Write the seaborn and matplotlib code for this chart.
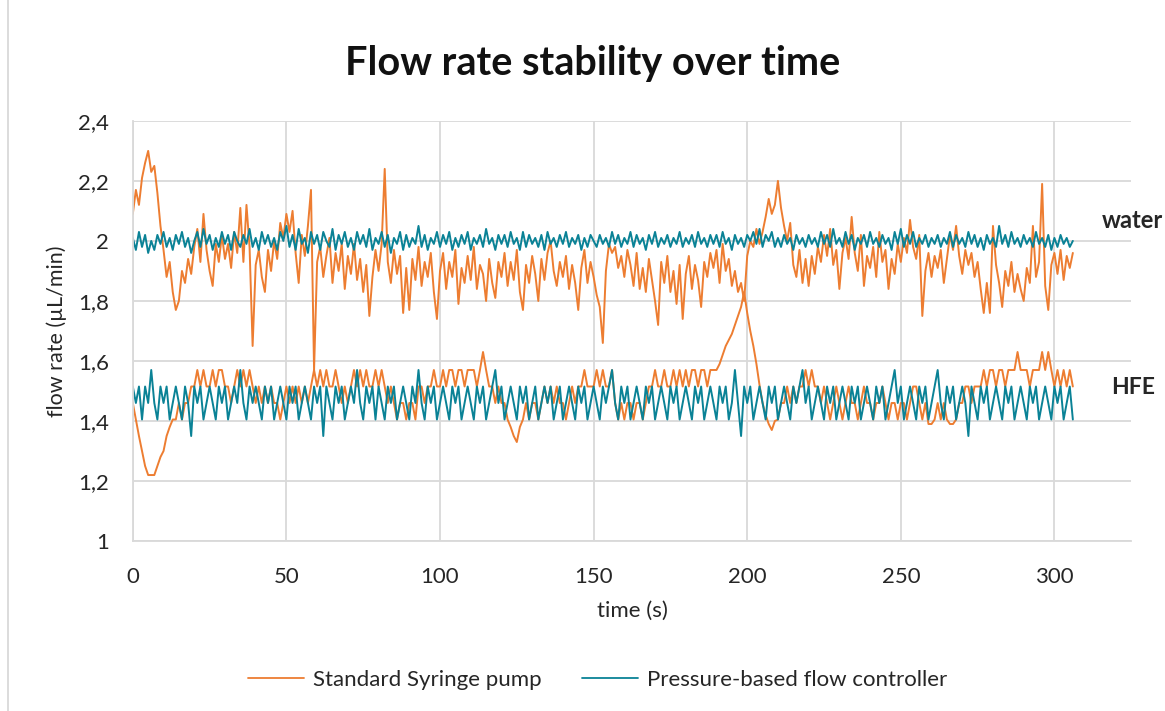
import numpy as np
import pandas as pd
import matplotlib
matplotlib.use("Agg")
import matplotlib.pyplot as plt
import seaborn as sns
from matplotlib.lines import Line2D
from matplotlib.ticker import FuncFormatter, MultipleLocator

# values, one sample per second (t = 0 .. 306 s)
syringe_water = [
    2.09, 2.17, 2.12, 2.21, 2.26, 2.30, 2.23, 2.25, 2.16, 2.05,
    1.97, 1.88, 1.93, 1.83, 1.77, 1.80, 1.90, 1.86, 1.94, 1.89,
    1.98, 2.04, 1.93, 2.09, 1.97, 1.90, 1.85, 1.99, 1.93, 2.02,
    1.94, 1.99, 1.91, 2.03, 1.96, 2.11, 1.93, 2.12, 1.98, 1.65,
    1.92, 1.97, 1.88, 1.83, 1.97, 1.90, 2.00, 1.94, 2.06, 2.01,
    2.09, 2.03, 2.10, 1.96, 1.86, 2.02, 1.95, 2.05, 2.17, 1.57,
    1.93, 1.98, 1.88, 1.95, 2.01, 1.86, 1.96, 1.90, 1.99, 1.84,
    1.95, 1.89, 1.99, 1.87, 1.94, 1.83, 1.92, 1.75, 1.88, 1.97,
    1.90, 1.99, 2.24, 1.93, 1.86, 1.97, 1.89, 1.95, 1.76, 1.91,
    1.77, 1.94, 1.87, 1.98, 1.85, 1.93, 1.88, 1.96, 1.83, 1.74,
    1.90, 1.96, 1.84, 1.93, 1.88, 1.97, 1.79, 1.91, 1.86, 1.95,
    1.87, 1.98, 1.84, 1.92, 1.89, 1.80, 1.94, 1.86, 1.81, 1.93,
    1.88, 1.96, 1.85, 1.93, 1.87, 1.97, 1.83, 1.77, 1.92, 1.86,
    1.95, 1.89, 1.80, 1.94, 1.87, 1.96, 2.00, 1.90, 1.85, 1.93,
    1.88, 1.95, 1.84, 1.92, 1.86, 1.77, 1.91, 1.97, 1.86, 1.93,
    1.88, 1.82, 1.78, 1.66, 1.90, 1.99, 1.96, 1.98, 1.91, 1.95,
    1.88, 1.97, 1.92, 1.85, 1.96, 1.84, 1.91, 1.83, 1.94, 1.87,
    1.80, 1.72, 1.93, 1.86, 1.95, 1.83, 1.90, 1.79, 1.92, 1.74,
    1.89, 1.95, 1.84, 1.92, 1.87, 1.78, 1.93, 1.88, 1.96, 1.91,
    1.97, 1.86, 1.99, 1.90, 1.94, 1.85, 1.90, 1.83, 1.86, 1.80,
    1.95, 2.00, 1.98, 2.04, 1.99, 2.03, 2.08, 2.14, 2.09, 2.12,
    2.20, 2.11, 2.05, 2.00, 2.06, 1.92, 1.88, 1.97, 1.86, 1.94,
    1.85, 1.95, 1.89, 1.98, 1.93, 2.02, 1.95, 2.04, 1.92, 1.97,
    1.84, 1.96, 2.01, 1.94, 2.08, 1.96, 1.90, 2.02, 1.85, 1.95,
    1.91, 1.98, 1.88, 2.03, 1.93, 1.97, 1.84, 1.94, 1.89, 1.99,
    1.93, 2.01, 1.96, 2.07, 1.98, 1.94, 2.02, 1.75, 1.90, 1.96,
    1.88, 1.95, 1.91, 1.97, 1.86, 1.94, 2.02, 1.97, 2.05, 1.95,
    1.89, 1.97, 1.92, 1.96, 1.88, 1.93, 1.84, 1.76, 1.86, 1.76,
    2.05, 1.92, 1.86, 1.78, 1.90, 1.85, 1.93, 1.83, 1.89, 1.84,
    1.80, 1.91, 1.86, 2.05, 1.88, 1.93, 2.19, 1.85, 1.77, 1.92,
    1.96, 1.89, 1.97, 1.87, 1.95, 1.91, 1.96,
]

pressure_water = [
    2.01, 1.97, 2.03, 1.98, 2.02, 1.96, 2.00, 1.97, 2.02, 1.99,
    2.03, 1.98, 2.01, 1.97, 2.02, 1.99, 2.03, 1.98, 2.01, 1.96,
    2.00, 2.03, 1.98, 2.04, 1.99, 2.02, 1.97, 2.01, 1.98, 2.03,
    1.99, 2.02, 1.97, 2.03, 2.00, 1.98, 2.02, 1.99, 2.04, 1.98,
    2.01, 1.97, 2.03, 1.99, 2.02, 1.98, 2.01, 1.97, 2.03, 2.00,
    2.05, 1.98, 2.02, 1.97, 2.04, 1.99, 2.01, 1.96, 2.03, 1.99,
    2.02, 1.97, 2.03, 2.00, 1.98, 2.04, 1.97, 2.02, 1.99, 2.03,
    1.98, 2.01, 1.97, 2.03, 1.99, 2.02, 1.98, 2.04, 1.97, 2.01,
    1.99, 2.03, 1.98, 2.02, 1.96, 2.01, 1.99, 2.03, 1.97, 2.02,
    1.98, 2.01, 1.99, 2.05, 1.98, 2.02, 1.97, 2.01, 1.99, 2.03,
    1.98, 2.02, 1.99, 2.03, 1.97, 2.01, 1.98, 2.02, 1.99, 2.03,
    1.97, 2.01, 1.99, 2.02, 1.98, 2.04, 1.99, 2.01, 1.97, 2.02,
    1.99, 2.02, 1.98, 2.03, 1.99, 2.01, 1.97, 2.03, 1.98, 2.02,
    1.99, 2.01, 1.98, 2.02, 1.97, 2.03, 1.99, 2.01, 1.98, 2.02,
    1.99, 2.03, 1.98, 2.01, 1.99, 2.02, 1.97, 2.01, 1.98, 2.02,
    2.00, 1.98, 2.02, 1.99, 2.01, 1.98, 2.03, 1.99, 2.02, 1.98,
    2.01, 1.99, 2.03, 1.98, 2.02, 1.99, 2.01, 1.97, 2.02, 1.99,
    2.03, 1.98, 2.01, 1.99, 2.02, 1.98, 2.01, 1.99, 2.03, 1.98,
    2.01, 1.99, 2.02, 1.98, 2.03, 1.99, 2.01, 1.98, 2.02, 1.99,
    2.02, 1.98, 2.03, 1.99, 2.01, 1.97, 2.02, 1.99, 2.01, 1.98,
    2.02, 2.00, 2.03, 1.99, 2.04, 1.98, 2.02, 2.00, 2.03, 1.98,
    2.01, 1.98, 2.02, 1.99, 2.01, 1.97, 2.02, 1.99, 2.01, 1.98,
    2.02, 1.99, 2.01, 1.98, 2.03, 1.99, 2.02, 1.98, 2.04, 1.99,
    2.01, 1.98, 2.03, 1.99, 2.02, 1.97, 2.01, 1.99, 2.02, 1.98,
    2.03, 1.99, 2.01, 1.98, 2.02, 1.99, 2.01, 1.97, 2.03, 1.99,
    2.04, 1.98, 2.02, 1.99, 2.03, 1.98, 2.01, 1.99, 2.02, 1.98,
    2.01, 1.99, 2.02, 1.98, 2.01, 1.99, 2.03, 1.98, 2.02, 1.99,
    2.01, 1.98, 2.03, 1.99, 2.02, 1.98, 2.01, 1.97, 2.02, 1.99,
    2.01, 1.98, 2.05, 1.99, 2.02, 1.98, 2.03, 1.99, 2.01, 1.98,
    2.02, 1.99, 2.01, 1.98, 2.03, 1.99, 2.01, 1.98, 2.02, 1.97,
    2.01, 1.98, 2.02, 1.99, 2.01, 1.98, 2.00,
]

syringe_hfe = [
    1.46, 1.405, 1.35, 1.30, 1.25, 1.22, 1.22, 1.22, 1.25, 1.28,
    1.30, 1.35, 1.38, 1.405, 1.405, 1.46, 1.405, 1.46, 1.46, 1.515,
    1.515, 1.57, 1.515, 1.57, 1.515, 1.515, 1.57, 1.515, 1.57, 1.57,
    1.515, 1.515, 1.46, 1.515, 1.57, 1.515, 1.57, 1.515, 1.57, 1.515,
    1.46, 1.515, 1.46, 1.515, 1.46, 1.515, 1.46, 1.46, 1.405, 1.46,
    1.515, 1.46, 1.515, 1.46, 1.515, 1.46, 1.515, 1.46, 1.515, 1.57,
    1.515, 1.57, 1.515, 1.57, 1.515, 1.515, 1.57, 1.515, 1.46, 1.515,
    1.46, 1.515, 1.57, 1.515, 1.57, 1.515, 1.57, 1.515, 1.515, 1.57,
    1.515, 1.57, 1.515, 1.46, 1.515, 1.46, 1.405, 1.46, 1.46, 1.405,
    1.46, 1.46, 1.405, 1.515, 1.515, 1.46, 1.515, 1.515, 1.57, 1.515,
    1.515, 1.57, 1.515, 1.57, 1.57, 1.515, 1.57, 1.57, 1.515, 1.57,
    1.57, 1.57, 1.515, 1.57, 1.63, 1.57, 1.515, 1.515, 1.46, 1.515,
    1.46, 1.46, 1.405, 1.38, 1.35, 1.33, 1.38, 1.405, 1.46, 1.405,
    1.46, 1.46, 1.405, 1.46, 1.515, 1.46, 1.515, 1.46, 1.515, 1.46,
    1.46, 1.405, 1.46, 1.515, 1.46, 1.515, 1.515, 1.57, 1.515, 1.515,
    1.515, 1.57, 1.515, 1.57, 1.515, 1.515, 1.57, 1.46, 1.405, 1.46,
    1.405, 1.46, 1.46, 1.405, 1.46, 1.46, 1.405, 1.46, 1.515, 1.515,
    1.57, 1.515, 1.515, 1.57, 1.515, 1.515, 1.57, 1.515, 1.57, 1.515,
    1.57, 1.515, 1.57, 1.57, 1.515, 1.57, 1.57, 1.515, 1.57, 1.57,
    1.57, 1.59, 1.62, 1.65, 1.67, 1.69, 1.72, 1.75, 1.78, 1.83,
    1.76, 1.70, 1.65, 1.59, 1.52, 1.46, 1.42, 1.39, 1.37, 1.40,
    1.405, 1.46, 1.46, 1.515, 1.46, 1.515, 1.46, 1.515, 1.515, 1.57,
    1.515, 1.57, 1.515, 1.515, 1.46, 1.515, 1.46, 1.405, 1.46, 1.515,
    1.46, 1.405, 1.46, 1.515, 1.46, 1.46, 1.405, 1.46, 1.515, 1.46,
    1.46, 1.405, 1.46, 1.46, 1.515, 1.46, 1.405, 1.46, 1.46, 1.405,
    1.46, 1.46, 1.405, 1.46, 1.515, 1.515, 1.46, 1.405, 1.46, 1.39,
    1.39, 1.405, 1.46, 1.405, 1.46, 1.405, 1.39, 1.39, 1.405, 1.46,
    1.46, 1.515, 1.515, 1.46, 1.515, 1.515, 1.515, 1.57, 1.515, 1.57,
    1.57, 1.515, 1.57, 1.57, 1.515, 1.57, 1.57, 1.57, 1.63, 1.57,
    1.57, 1.57, 1.515, 1.57, 1.57, 1.57, 1.63, 1.57, 1.63, 1.57,
    1.515, 1.57, 1.515, 1.57, 1.515, 1.57, 1.515,
]

pressure_hfe = [
    1.515, 1.46, 1.515, 1.405, 1.515, 1.46, 1.57, 1.46, 1.405, 1.515,
    1.46, 1.515, 1.405, 1.46, 1.515, 1.46, 1.405, 1.515, 1.46, 1.35,
    1.515, 1.46, 1.515, 1.405, 1.46, 1.515, 1.46, 1.405, 1.515, 1.46,
    1.515, 1.405, 1.46, 1.515, 1.46, 1.57, 1.46, 1.405, 1.515, 1.46,
    1.515, 1.46, 1.405, 1.515, 1.46, 1.515, 1.405, 1.46, 1.515, 1.46,
    1.405, 1.515, 1.46, 1.515, 1.405, 1.46, 1.515, 1.46, 1.405, 1.515,
    1.46, 1.515, 1.35, 1.515, 1.46, 1.405, 1.515, 1.46, 1.515, 1.405,
    1.46, 1.515, 1.46, 1.57, 1.46, 1.405, 1.515, 1.46, 1.515, 1.405,
    1.515, 1.46, 1.405, 1.515, 1.46, 1.515, 1.405, 1.46, 1.515, 1.46,
    1.405, 1.515, 1.46, 1.57, 1.46, 1.405, 1.515, 1.46, 1.515, 1.405,
    1.46, 1.515, 1.46, 1.405, 1.515, 1.46, 1.515, 1.405, 1.46, 1.515,
    1.46, 1.405, 1.515, 1.46, 1.515, 1.405, 1.46, 1.515, 1.57, 1.46,
    1.515, 1.405, 1.46, 1.515, 1.46, 1.405, 1.515, 1.46, 1.515, 1.405,
    1.46, 1.515, 1.405, 1.46, 1.515, 1.46, 1.515, 1.405, 1.46, 1.515,
    1.405, 1.46, 1.515, 1.46, 1.405, 1.515, 1.46, 1.515, 1.405, 1.46,
    1.515, 1.46, 1.405, 1.515, 1.46, 1.515, 1.57, 1.46, 1.405, 1.515,
    1.46, 1.515, 1.405, 1.46, 1.515, 1.46, 1.405, 1.515, 1.46, 1.515,
    1.405, 1.46, 1.515, 1.46, 1.405, 1.515, 1.46, 1.515, 1.405, 1.46,
    1.515, 1.46, 1.405, 1.515, 1.46, 1.515, 1.405, 1.46, 1.515, 1.46,
    1.405, 1.515, 1.46, 1.515, 1.405, 1.46, 1.57, 1.46, 1.35, 1.515,
    1.46, 1.515, 1.405, 1.46, 1.515, 1.46, 1.405, 1.515, 1.46, 1.515,
    1.405, 1.46, 1.515, 1.46, 1.405, 1.515, 1.46, 1.515, 1.57, 1.46,
    1.515, 1.405, 1.46, 1.515, 1.46, 1.405, 1.515, 1.46, 1.515, 1.405,
    1.46, 1.515, 1.46, 1.405, 1.515, 1.46, 1.515, 1.405, 1.46, 1.515,
    1.46, 1.405, 1.515, 1.46, 1.515, 1.405, 1.46, 1.515, 1.57, 1.46,
    1.515, 1.405, 1.46, 1.515, 1.46, 1.405, 1.515, 1.46, 1.515, 1.405,
    1.46, 1.515, 1.57, 1.46, 1.405, 1.515, 1.46, 1.515, 1.405, 1.46,
    1.515, 1.46, 1.35, 1.515, 1.46, 1.405, 1.515, 1.46, 1.515, 1.405,
    1.46, 1.515, 1.46, 1.405, 1.515, 1.46, 1.515, 1.405, 1.46, 1.515,
    1.46, 1.405, 1.515, 1.46, 1.515, 1.405, 1.46, 1.515, 1.46, 1.405,
    1.515, 1.46, 1.515, 1.405, 1.46, 1.515, 1.405,
]

time_s = np.arange(len(syringe_water))

orange = "#ED7D31"
teal = "#0A8296"
grid_col = "#D9D9D9"
label_col = "#262626"

sns.set_style("white")
plt.rcParams["font.family"] = ["Lato", "DejaVu Sans"]

fig = plt.figure(figsize=(11.65, 7.11), dpi=100)
ax = fig.add_axes([0.114, 0.239, 0.857, 0.591])

# orange first, teal drawn on top
sns.lineplot(x=time_s, y=syringe_water, color=orange, lw=1.4, ax=ax)
sns.lineplot(x=time_s, y=syringe_hfe, color=orange, lw=1.4, ax=ax)
sns.lineplot(x=time_s, y=pressure_water, color=teal, lw=1.4, ax=ax)
sns.lineplot(x=time_s, y=pressure_hfe, color=teal, lw=1.4, ax=ax)

ax.set_xlim(0, 325)
ax.set_ylim(1, 2.4)
ax.set_xticks([0, 50, 100, 150, 200, 250, 300])
ax.yaxis.set_major_locator(MultipleLocator(0.2))
ax.yaxis.set_major_formatter(FuncFormatter(lambda v, p: f"{v:.1f}".rstrip("0").rstrip(".").replace(".", ",")))
ax.grid(True, color=grid_col, lw=1.3)
ax.set_axisbelow(True)
for s in ["top", "right"]:
    ax.spines[s].set_visible(False)
for s in ["left", "bottom"]:
    ax.spines[s].set_color(grid_col)
    ax.spines[s].set_linewidth(1.3)
ax.tick_params(length=0, labelsize=16, labelcolor=label_col)
ax.tick_params(axis="y", pad=17)
ax.tick_params(axis="x", pad=19)

ax.set_xlabel("time (s)", fontsize=16, color=label_col, labelpad=10)
ax.set_ylabel("flow rate (µL/min)", fontsize=15.5, color=label_col, labelpad=8)
fig.suptitle("Flow rate stability over time", fontsize=28.5, fontweight="bold",
             x=0.509, y=0.911, va="center", color="#111111")

ax.text(315.5, 2.067, "water", fontsize=17, fontweight="bold", va="center", ha="left", clip_on=False)
ax.text(318.5, 1.51, "HFE", fontsize=16.5, fontweight="bold", va="center", ha="left", clip_on=False)

handles = [Line2D([], [], color=orange, lw=1.3), Line2D([], [], color=teal, lw=1.3)]
fig.legend(handles, ["Standard Syringe pump", "Pressure-based flow controller"],
           loc="center", bbox_to_anchor=(0.513, 0.044), ncol=2, frameon=False,
           fontsize=16, handlelength=2.5, handletextpad=0.4, columnspacing=1.85,
           labelcolor=label_col)

# chart area border (left edge visible in the reference)
fig.add_artist(Line2D([8 / 1165, 8 / 1165], [0, 1], color=grid_col, lw=1.3, transform=fig.transFigure))

fig.savefig("out.png", dpi=100)
